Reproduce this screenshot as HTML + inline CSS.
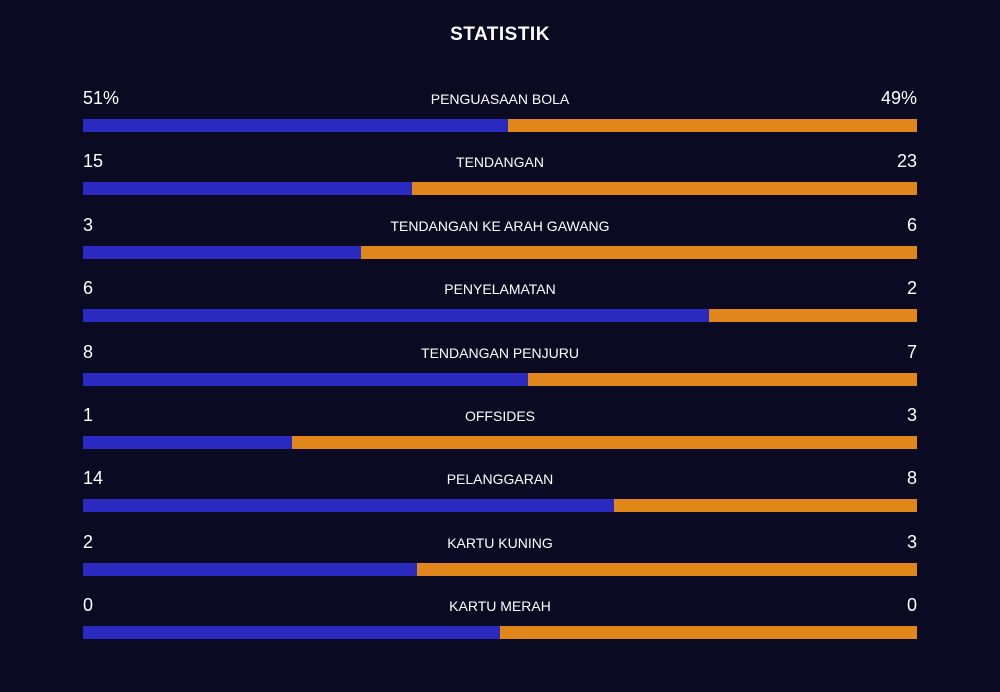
<!DOCTYPE html>
<html><head><meta charset="utf-8"><style>
body{margin:0;width:1000px;height:692px;background:#0a0a23;font-family:"Liberation Sans",sans-serif;color:#fff;position:relative;overflow:hidden}
.t{position:absolute;top:24px;left:0;width:1000px;text-align:center;font-weight:bold;font-size:19px;letter-spacing:0.5px}
.row{position:absolute;left:83px;width:834px;height:60px}
.v{position:absolute;top:0;font-size:18px;line-height:22px}
.l{position:absolute;top:3px;left:0;width:834px;text-align:center;font-size:14px;line-height:18px}
.bar{position:absolute;top:32px;left:0;width:834px;height:13px;background:#e0861a}
.b{position:absolute;top:0;left:0;height:13px;background:#2a2ac0}
</style></head><body>
<div class="t">STATISTIK</div>
<div id="c"></div>
<script>
const labels=["PENGUASAAN BOLA","TENDANGAN","TENDANGAN KE ARAH GAWANG","PENYELAMATAN","TENDANGAN PENJURU","OFFSIDES","PELANGGARAN","KARTU KUNING","KARTU MERAH"];
const home=[51,15,3,6,8,1,14,2,0];
const away=[49,23,6,2,7,3,8,3,0];
const suffix=["%","","","","","","","",""];
const c=document.getElementById('c');
labels.forEach((lab,i)=>{
  const r=document.createElement('div');r.className='row';r.style.top=(87+i*63.4)+'px';
  
  
  const tot=home[i]+away[i];const f=tot?home[i]/tot:0.5;
  r.innerHTML='<div class="v" style="left:0">'+home[i]+suffix[i]+'</div>'+
  '<div class="l">'+lab+'</div>'+
  '<div class="v" style="right:0">'+away[i]+suffix[i]+'</div>'+
  '<div class="bar"><div class="b" style="width:'+(f*834)+'px"></div></div>';
  c.appendChild(r);
});
</script>
</body></html>
